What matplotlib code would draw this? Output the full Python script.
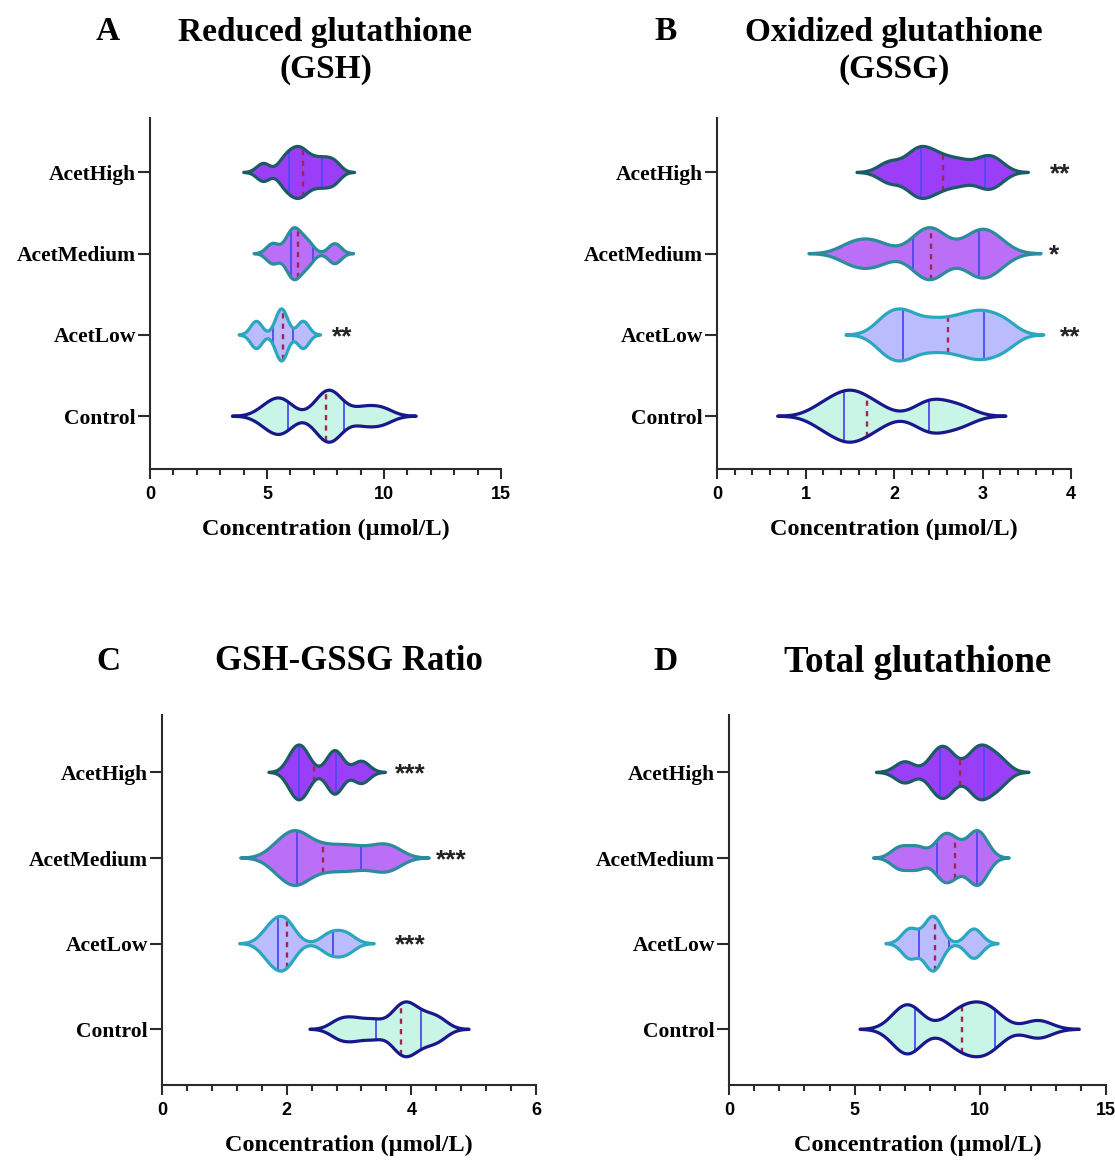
import numpy as np
import matplotlib.pyplot as plt
from matplotlib import mlab
from matplotlib.ticker import MultipleLocator

W, H = 1115, 1169

GROUPS = ['Control', 'AcetLow', 'AcetMedium', 'AcetHigh']

# fill / outline colour per group (same order as GROUPS)
FILL = ['#c8f5e5', '#bbbcfd', '#bb6ff6', '#9a3ef8']
EDGE = ['#18188c', '#2aa7bf', '#2a8c9c', '#1c5b66']
QUART_COLOR = '#4b4bef'
MED_COLOR = '#a3244f'

# --- observations (estimated), order: Control, AcetLow, AcetMedium, AcetHigh ---
gsh_obs = [
    [5.0, 5.55, 5.75, 7.3, 7.55, 7.75, 8.0, 9.1, 9.9],
    [4.55, 5.55, 5.7, 6.55],
    [5.25, 5.95, 6.15, 6.35, 6.75, 7.9],
    [4.85, 5.7, 6.0, 6.25, 6.45, 6.7, 7.1, 7.5, 7.9],
]
gssg_obs = [
    [1.2, 1.4, 1.5, 1.6, 1.8, 2.35, 2.5, 2.75],
    [1.9, 2.05, 2.2, 2.45, 2.7, 2.9, 3.05, 3.25],
    [1.55, 1.8, 2.3, 2.4, 2.5, 2.9, 3.0, 3.15],
    [1.95, 2.2, 2.3, 2.4, 2.55, 2.75, 3.0, 3.15],
]
ratio_obs = [
    [2.85, 3.1, 3.4, 3.75, 3.85, 3.95, 4.05, 4.25, 4.45],
    [1.7, 1.85, 1.95, 2.05, 2.7, 2.95],
    [1.85, 2.05, 2.15, 2.25, 2.5, 2.8, 3.1, 3.45, 3.7],
    [2.1, 2.2, 2.3, 2.75, 2.8, 3.2],
]
total_obs = [
    [6.85, 7.1, 7.35, 8.9, 9.4, 9.8, 10.2, 10.6, 12.3],
    [7.2, 8.0, 8.25, 9.75],
    [6.8, 7.5, 8.4, 8.65, 9.0, 9.65, 9.9, 10.1],
    [7.0, 8.2, 8.5, 8.8, 9.7, 10.0, 10.3, 10.8],
]

# --- quartiles: (Q1, median, Q3) ---
gsh_q = [(5.88, 7.51, 8.27), (5.26, 5.69, 6.10), (6.01, 6.33, 6.96), (5.92, 6.53, 7.37)]
gssg_q = [(1.44, 1.69, 2.39), (2.10, 2.61, 3.02), (2.22, 2.42, 2.96), (2.30, 2.55, 3.03)]
ratio_q = [(3.44, 3.83, 4.15), (1.86, 2.01, 2.74), (2.16, 2.59, 3.20), (2.20, 2.44, 2.79)]
total_q = [(7.41, 9.29, 10.57), (7.55, 8.19, 8.76), (8.26, 9.01, 9.86), (8.40, 9.21, 10.13)]

# --- significance marks: (group index, x position, label) ---
gsh_sig = [(1, 8.2, '**')]
gssg_sig = [(3, 3.88, '**'), (2, 3.81, '*'), (1, 3.99, '**')]
ratio_sig = [(3, 3.98, '***'), (2, 4.64, '***'), (1, 3.98, '***')]
total_sig = []

SERIF = 'Liberation Serif'
SANS = 'Liberation Sans'
BW = 0.3
HALF = 0.32


def draw_violins(ax, obs_list, quarts):
    for i, (obs, (q1, med, q3)) in enumerate(zip(obs_list, quarts)):
        y = i + 1
        obs = np.asarray(obs, float)
        kde = mlab.GaussianKDE(obs, bw_method=BW)
        h = BW * np.std(obs, ddof=1)
        grid = np.linspace(obs.min() - 3 * h, obs.max() + 3 * h, 500)
        dens = kde.evaluate(grid)
        scale = HALF / dens.max()
        w = dens * scale
        ax.fill_between(grid, y - w, y + w, facecolor=FILL[i], edgecolor='none', zorder=2)
        for q in (q1, q3):
            wq = kde.evaluate(np.array([q]))[0] * scale
            ax.plot([q, q], [y - wq, y + wq], color=QUART_COLOR, lw=1.3, zorder=3)
        wm = kde.evaluate(np.array([med]))[0] * scale
        ax.plot([med, med], [y - wm, y + wm], color=MED_COLOR, lw=1.7,
                dashes=(2.2, 2.2), zorder=3)
        ax.fill_between(grid, y - w, y + w, facecolor='none', edgecolor=EDGE[i],
                        lw=2.3, joinstyle='round', zorder=4)


def style_axes(ax, xmax, major, minor):
    ax.set_xlim(0, xmax)
    ax.set_ylim(0.35, 4.67)
    ax.xaxis.set_major_locator(MultipleLocator(major))
    ax.xaxis.set_minor_locator(MultipleLocator(minor))
    ax.set_yticks(range(1, 5))
    ax.set_yticklabels(GROUPS, fontfamily=SERIF, fontweight='bold', fontsize=15.5)
    for lab in ax.get_xticklabels():
        lab.set_fontfamily(SANS)
        lab.set_fontweight('bold')
        lab.set_fontsize(13)
    for s in ('top', 'right'):
        ax.spines[s].set_visible(False)
    for s in ('left', 'bottom'):
        ax.spines[s].set_linewidth(1.5)
        ax.spines[s].set_color('#2b2b2b')
    ax.tick_params(axis='x', which='major', length=7, width=1.5, pad=5, color='#2b2b2b')
    ax.tick_params(axis='x', which='minor', length=4, width=1.5, color='#2b2b2b')
    ax.tick_params(axis='y', which='major', length=8.5, width=1.5, pad=1.5, color='#2b2b2b')
    ax.set_facecolor('none')


def add_sig(ax, sig):
    for gi, x, lab in sig:
        ax.annotate(lab, xy=(x, gi + 1), xytext=(0, -1.5), textcoords='offset points',
                    ha='center', va='center', fontsize=19, fontfamily=SANS,
                    fontweight='bold', color='#222222')


def px_axes(fig, left, right, top, bottom):
    return fig.add_axes([left / W, 1 - bottom / H, (right - left) / W, (bottom - top) / H])


fig = plt.figure(figsize=(W / 100, H / 100), dpi=100)
fig.patch.set_facecolor('white')

panels = [
    # data, quartiles, sig, (l, r, t, b), xmax, major, minor, letter, title, letter_x, title_y, title size
    (gsh_obs, gsh_q, gsh_sig, (150, 501, 118, 469), 15, 5, 1, 'A',
     'Reduced glutathione\n(GSH)', 108, 51, 24),
    (gssg_obs, gssg_q, gssg_sig, (717, 1071, 118, 469), 4, 1, 0.2, 'B',
     'Oxidized glutathione\n(GSSG)', 666, 51, 24),
    (ratio_obs, ratio_q, ratio_sig, (162, 536, 715, 1085), 6, 2, 0.4, 'C',
     'GSH-GSSG Ratio', 108, 662, 25),
    (total_obs, total_q, total_sig, (729, 1106, 715, 1085), 15, 5, 1, 'D',
     'Total glutathione', 666, 662, 26.5),
]

for obs, qs, sig, (l, r, t, b), xmax, major, minor, letter, title, lx, ty, tsize in panels:
    ax = px_axes(fig, l, r, t, b)
    draw_violins(ax, obs, qs)
    style_axes(ax, xmax, major, minor)
    add_sig(ax, sig)
    cx = (l + r) / 2
    fig.text(cx / W, 1 - ty / H, title, ha='center', va='center', fontsize=tsize,
             fontfamily=SERIF, fontweight='bold', linespacing=1.25)
    letter_y = 31 if letter in 'AB' else ty
    fig.text(lx / W, 1 - letter_y / H, letter, ha='center', va='center', fontsize=24,
             fontfamily=SERIF, fontweight='bold')
    fig.text(cx / W, 1 - (b + 60) / H, 'Concentration (\u00b5mol/L)', ha='center',
             va='center', fontsize=17.5, fontfamily=SERIF, fontweight='bold')

fig.savefig('out.png', dpi=100)
